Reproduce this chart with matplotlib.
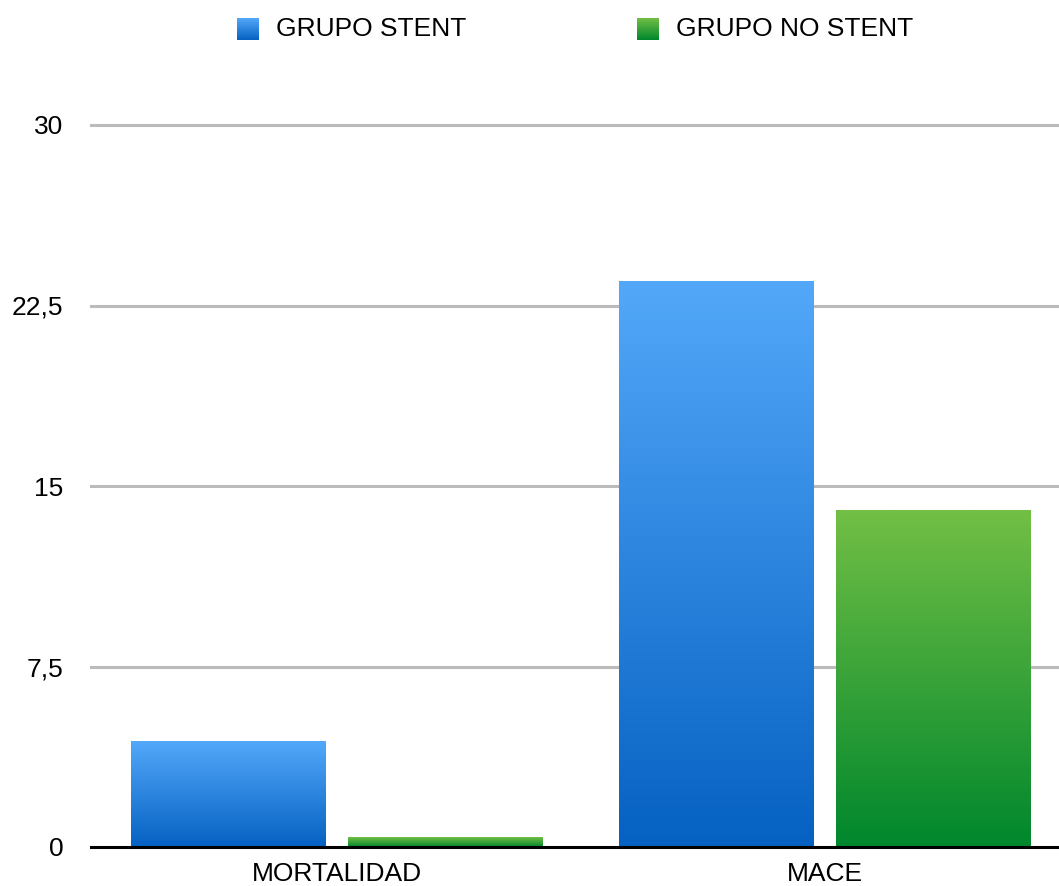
import numpy as np
import matplotlib
matplotlib.use("Agg")
import matplotlib.pyplot as plt
from matplotlib.colors import LinearSegmentedColormap

plt.rcParams['font.family'] = ['Liberation Sans', 'DejaVu Sans']

categories = ["MORTALIDAD", "MACE"]
series_names = ["GRUPO STENT", "GRUPO NO STENT"]
stent = [4.4, 23.5]
no_stent = [0.4, 14.0]
yticks = [0, 7.5, 15, 22.5, 30]
ytick_labels = ["0", "7,5", "15", "22,5", "30"]

blue_cmap = LinearSegmentedColormap.from_list("blue", ["#0561C2", "#53A8F9"])
green_cmap = LinearSegmentedColormap.from_list("green", ["#00872D", "#72BF45"])

W, H = 1059, 886
FS = 19
fig = plt.figure(figsize=(W / 100, H / 100), dpi=100)
ax = fig.add_axes([91 / W, 39 / H, (W - 91) / W + 0.01, (847 - 125) / H])

x = np.arange(len(categories))
width = 0.399
offset = 0.222
grad = np.linspace(0, 1, 256).reshape(-1, 1)


def gradient_bars(xpos, values, cmap):
    bars = ax.bar(xpos, values, width=width, color="none", edgecolor="none", zorder=3)
    for b in bars:
        x0, y0 = b.get_x(), b.get_y()
        ax.imshow(grad, cmap=cmap, origin="lower", aspect="auto",
                  extent=[x0, x0 + b.get_width(), y0, y0 + b.get_height()],
                  zorder=3, interpolation="bilinear")
    return bars


gradient_bars(x - offset, stent, blue_cmap)
gradient_bars(x + offset, no_stent, green_cmap)

ax.set_xlim(-0.503, 1.50)
ax.set_ylim(0, 30)
ax.set_yticks(yticks)
ax.set_yticklabels(ytick_labels)
ax.set_xticks(x)
ax.set_xticklabels(categories)
ax.tick_params(axis="both", length=0, labelsize=FS, colors="black")
ax.tick_params(axis="y", pad=20)
ax.tick_params(axis="x", pad=11)

for y in yticks[1:]:
    ax.axhline(y, color="#BBBBBB", lw=2.2, zorder=1, clip_on=False)

for s in ["top", "right", "left"]:
    ax.spines[s].set_visible(False)
ax.spines["bottom"].set_linewidth(2.2)
ax.spines["bottom"].set_color("black")
ax.spines["bottom"].set_zorder(4)

# legend swatches with the same gradients
for (sx, tx, name, cmap) in [(237, 276, series_names[0], blue_cmap),
                             (637, 676, series_names[1], green_cmap)]:
    sw = fig.add_axes([sx / W, (H - 40) / H, 22 / W, 22 / H])
    sw.imshow(grad, cmap=cmap, origin="lower", aspect="auto", interpolation="bilinear")
    sw.axis("off")
    fig.text(tx / W, (H - 29) / H, name, fontsize=FS, va="center", ha="left")

fig.savefig("out.png", dpi=100, facecolor="white")
